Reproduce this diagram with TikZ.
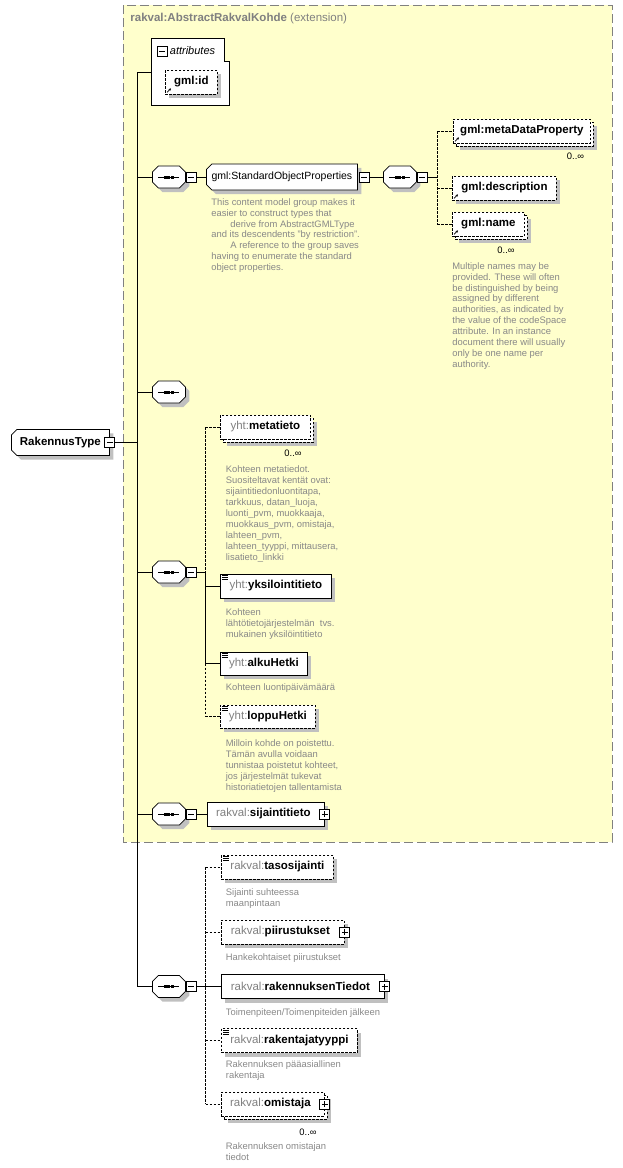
\documentclass[tikz,border=0pt]{standalone}
\usepackage{fontspec}
\setmainfont{Liberation Sans}
\usetikzlibrary{positioning,shapes.misc,shadows,arrows.meta}

\definecolor{kohdefill}{RGB}{255,255,204}
\definecolor{kohdeline}{RGB}{128,128,128}
\definecolor{shadowgray}{RGB}{192,192,192}
\definecolor{notegray}{RGB}{136,136,136}

\newcommand{\pfx}[1]{\textcolor{kohdeline}{\mdseries #1}}

\tikzset{
  labelfont/.style={font=\fontsize{11.5}{13}\selectfont\bfseries},
  note/.style={font=\fontsize{9.4}{10.9}\selectfont, text=notegray, align=left, inner sep=0pt, anchor=north west},
  maxocc/.style={font=\fontsize{9.4}{10.9}\selectfont, inner sep=0pt},
  optional/.style={dash pattern=on 2.5pt off 1.5pt},
  shade/.style={general shadow={fill=shadowgray, shadow xshift=4pt, shadow yshift=-4pt}},
  box/.style={draw, fill=white, rectangle, inner sep=0pt, minimum height=24pt, labelfont, anchor=west},
  elem/.style={box, shade},
  elems/.style={box, general shadow={fill=shadowgray, shadow xshift=7pt, shadow yshift=-7pt},
    copy shadow={shadow xshift=3pt, shadow yshift=-3pt, optional}},
  ctype/.style={draw, fill=white, shade, labelfont, anchor=west, chamfered rectangle,
    chamfered rectangle corners={north west,south west}, chamfered rectangle xsep=2pt,
    inner xsep=0pt, inner ysep=4.25pt, text height=8pt, text depth=2.5pt, align=center},
  seqbox/.style={draw, fill=white, shade, chamfered rectangle, chamfered rectangle xsep=2.5pt,
    inner xsep=14pt, inner ysep=7.5pt, anchor=west,
    path picture={
      \draw ([xshift=-10.5pt]path picture bounding box.center) -- ([xshift=10.5pt]path picture bounding box.center);
      \foreach \d in {-5.1,-1.5,2.1}
        \fill[black] ([xshift=\d pt, yshift=-1.5pt]path picture bounding box.center) rectangle +(3pt,3pt);
    }},
  minusbox/.style={draw, fill=white, rectangle, inner sep=0pt, minimum size=10pt,
    path picture={\draw ([xshift=-3pt]path picture bounding box.center) -- ([xshift=3pt]path picture bounding box.center);}},
  plusbox/.style={draw, fill=white, rectangle, inner sep=0pt, minimum size=10pt,
    path picture={\draw ([xshift=-3pt]path picture bounding box.center) -- ([xshift=3pt]path picture bounding box.center)
      ([yshift=-3pt]path picture bounding box.center) -- ([yshift=3pt]path picture bounding box.center);}},
  refarrow/.style={-{Stealth[length=2.5pt,width=2.5pt]}, line width=0.7pt},
}

\begin{document}
\begin{tikzpicture}[x=1pt,y=-1pt,line width=0.8pt]
\useasboundingbox (0,0) rectangle (622,1168);

\draw[kohdeline, fill=kohdefill, dash pattern=on 9pt off 4pt] (123,5) rectangle (612,842);
\node[labelfont, text=kohdeline, anchor=west, inner sep=0pt] (basetype) at (130,19) {rakval:AbstractRakvalKohde \mdseries(extension)};

\draw[fill=white] (151,38) -- (224,38) -- (224,61) -- (229,61) -- (229,105) -- (151,105) -- cycle;
\node[minusbox] (attrm) at (162,51) {};
\node[font=\fontsize{11}{13}\selectfont\itshape, anchor=west, inner sep=0pt] (attrtxt) at (169.5,51) {attributes};
\coordinate (attr) at (151,72);
\node[elem, optional, minimum width=52pt] (gid) at (165,82) {gml:id};

\node[ctype, text width=94pt] (rt) at (11,442.5) {RakennusType};
\node[minusbox] (rtm) at (rt.east) {};
\coordinate (trunk) at (137,72);

\node[seqbox] (s1) at (152,177) {};
\node[minusbox, anchor=west] (s1m) at (s1.east) {};
\node[ctype, font=\fontsize{10.5}{12}\selectfont, text width=147pt] (sop) at (206,177) {gml:StandardObjectProperties};
\node[minusbox, anchor=west] (sopm) at ([xshift=1pt]sop.east) {};
\node[note] (sopnote) at (211,198) {This content model group makes it\\easier to construct types that\\\hspace*{19pt}derive from AbstractGMLType\\and its descendents "by restriction".\\\hspace*{19pt}A reference to the group saves\\having to enumerate the standard\\object properties.};
\node[seqbox] (s2) at (383,177) {};
\node[minusbox, anchor=west] (s2m) at (s2.east) {};
\coordinate (b1) at (437,177);
\node[elems, optional, minimum width=137pt] (mdp) at (453,131) {gml:metaDataProperty};
\node[maxocc] (mdpmax) at (575.5,156) {0..∞};
\node[elem, optional, minimum width=104pt] (desc) at (452,188) {gml:description};
\node[elems, optional, minimum width=72pt] (nm) at (452,224) {gml:name};
\node[maxocc] (nmmax) at (506,250.5) {0..∞};
\node[note] (nmnote) at (452,262) {Multiple names may be\\provided. These will often\\be distinguished by being\\assigned by different\\authorities, as indicated by\\the value of the codeSpace\\attribute. In an instance\\document there will usually\\only be one name per\\authority.};

\node[seqbox] (s3) at (152,392) {};

\node[seqbox] (s4) at (152,572) {};
\node[minusbox, anchor=west] (s4m) at (s4.east) {};
\coordinate (b2) at (205,572);
\node[elems, optional, minimum width=90pt] (mt) at (220,427) {\pfx{yht:}metatieto};
\node[maxocc] (mtmax) at (293,453) {0..∞};
\node[note] (mtnote) at (225.5,465.7) {Kohteen metatiedot.\\Suositeltavat kentät ovat:\\sijaintitiedonluontitapa,\\tarkkuus, datan\_luoja,\\luonti\_pvm, muokkaaja,\\muokkaus\_pvm, omistaja,\\lahteen\_pvm,\\lahteen\_tyyppi, mittausera,\\lisatieto\_linkki};
\node[elem, minimum width=111pt] (yk) at (220,586) {\pfx{yht:}yksilointitieto};
\node[note] (yknote) at (225.5,608) {Kohteen\\lähtötietojärjestelmän\ \ tvs.\\mukainen yksilöintitieto};
\node[elem, minimum width=87pt, minimum height=23pt] (ah) at (220,663.5) {\pfx{yht:}alkuHetki};
\node[note] (ahnote) at (225.5,683) {Kohteen luontipäivämäärä};
\node[elem, optional, minimum width=95pt, minimum height=23pt] (lh) at (220,716.5) {\pfx{yht:}loppuHetki};
\node[note] (lhnote) at (225.5,739.4) {Milloin kohde on poistettu.\\Tämän avulla voidaan\\tunnistaa poistetut kohteet,\\jos järjestelmät tukevat\\historiatietojen tallentamista};

\node[seqbox] (s5) at (152,814) {};
\node[minusbox, anchor=west] (s5m) at (s5.east) {};
\node[elem, minimum width=117pt] (sij) at (207,814) {\pfx{rakval:}sijaintitieto\hspace*{5pt}};
\node[plusbox] (sijp) at (sij.east) {};

\node[seqbox] (s6) at (152,986.5) {};
\node[minusbox, anchor=west] (s6m) at (s6.east) {};
\coordinate (b3) at (205.5,986.5);
\node[elem, optional, minimum width=112pt] (ts) at (221,867) {\pfx{rakval:}tasosijainti};
\node[note] (tsnote) at (225.5,888) {Sijainti suhteessa\\maanpintaan};
\node[elem, optional, minimum width=123pt] (pii) at (221,932) {\pfx{rakval:}piirustukset\hspace*{5pt}};
\node[plusbox] (piip) at (pii.east) {};
\node[note] (piinote) at (225.5,953) {Hankekohtaiset piirustukset};
\node[elem, minimum width=163pt] (rkt) at (221,986.5) {\pfx{rakval:}rakennuksenTiedot\hspace*{5pt}};
\node[plusbox] (rktp) at (rkt.east) {};
\node[note] (rktnote) at (225.5,1008) {Toimenpiteen/Toimenpiteiden jälkeen};
\node[elem, optional, minimum width=136pt] (rty) at (221,1040.5) {\pfx{rakval:}rakentajatyyppi};
\node[note] (rtynote) at (225.5,1060.5) {Rakennuksen pääasiallinen\\rakentaja};
\node[elems, optional, minimum width=103pt] (om) at (221,1104) {\pfx{rakval:}omistaja\hspace*{5pt}};
\node[plusbox] (omp) at (om.east) {};
\node[maxocc] (ommax) at (308,1132) {0..∞};
\node[note] (omnote) at (225.5,1142.5) {Rakennuksen omistajan\\tiedot};

\draw (rtm.east) -- (rtm.east -| trunk);
\draw (trunk) -- (trunk |- s6.west);
\draw (trunk) -- (attr);
\foreach \s in {s1,s3,s4,s5,s6}
  \draw (trunk |- \s.west) -- (\s.west);

\draw (s1m.east) -- (sop.west);
\draw (sopm.east) -- (s2.west);
\draw (s2m.east) -- (b1);
\draw[optional] (b1 |- mdp.west) -- (b1 |- nm.west);
\foreach \e in {mdp,desc,nm}
  \draw[optional] (b1 |- \e.west) -- (\e.west);

\draw (s4m.east) -- (b2);
\draw[optional] (b2 |- mt.west) -- (b2);
\draw (b2) -- (b2 |- ah.west);
\draw[optional] (b2 |- ah.west) -- (b2 |- lh.west);
\draw[optional] (b2 |- mt.west) -- (mt.west);
\draw (b2 |- yk.west) -- (yk.west);
\draw (b2 |- ah.west) -- (ah.west);
\draw[optional] (b2 |- lh.west) -- (lh.west);

\draw (s5m.east) -- (sij.west);

\draw (s6m.east) -- (rkt.west);
\draw[optional] (b3 |- ts.west) -- (b3 |- om.west);
\foreach \e in {ts,pii,rty,om}
  \draw[optional] (b3 |- \e.west) -- (\e.west);

\foreach \n in {gid,mdp,desc,nm}
  \draw[refarrow] ([shift={(2pt,2pt)}]\n.south west) -- +(4pt,4pt);
\foreach \n in {yk,ah,lh,ts,rty}
  \foreach \d in {2,4,6}
    \draw[line width=0.6pt] ([shift={(2pt,-\d pt)}]\n.north west) -- +(6pt,0pt);
\end{tikzpicture}
\end{document}
